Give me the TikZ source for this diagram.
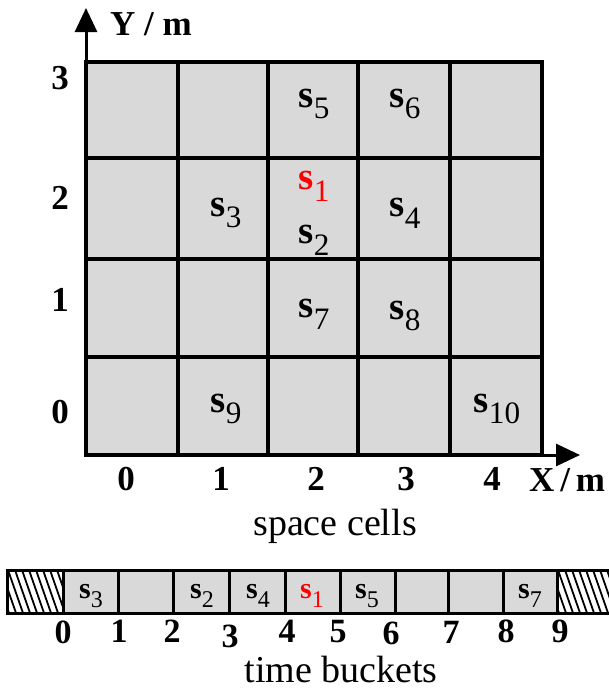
\documentclass[tikz,border=0pt]{standalone}
\usepackage{fontspec}
\setmainfont{Liberation Serif}
\usetikzlibrary{arrows.meta}
\definecolor{cellgray}{RGB}{217,217,217}
\definecolor{sred}{RGB}{255,0,0}
\newcommand{\svar}[1]{{\bfseries s}\raisebox{-0.3em}{\mdseries\scalebox{0.8}{#1}}}
\tikzset{
  cell/.style={fill=cellgray,draw=black,line width=3.6pt},
  bucket/.style={fill=cellgray,draw=black,line width=3pt},
  big/.style={font=\fontsize{35}{38}\selectfont\bfseries,inner sep=0pt},
  lab/.style={font=\fontsize{39}{42}\selectfont,inner sep=0pt},
  blab/.style={font=\fontsize{30}{32}\selectfont,inner sep=0pt},
  tnum/.style={font=\fontsize{34}{36}\selectfont\bfseries,inner sep=0pt},
  captext/.style={font=\fontsize{38}{40}\selectfont,inner sep=0pt},
  axis/.style={line width=3pt,-{Triangle[length=24pt,width=22pt]}}
}
\begin{document}
\begin{tikzpicture}[x=1pt,y=-1pt]
\useasboundingbox (0,0) rectangle (609,689);
% grid cells
\foreach \xa/\xb in {86/178,178/268,268/358,358/450,450/542}{
  \foreach \ya/\yb in {62/158,158/259,259/357,357/455}{
    \draw[cell] (\xa,\ya) rectangle (\xb,\yb);
  }
}
% axes
\coordinate (o) at (86,455);
\coordinate (ytip) at (86,8);
\coordinate (xtip) at (580,455);
\draw[axis] (o) -- (ytip);
\draw[axis] (o) -- (xtip);
\node[big,anchor=west] (ylab) at (110,24) {Y / m};
\node[big,anchor=west] (xlab) at (529,480) {X\,/\,m};
% y numbers
\node[big] (y3) at (60,78) {3};
\node[big] (y2) at (60,198) {2};
\node[big] (y1) at (60,300) {1};
\node[big] (y0) at (60,412) {0};
% x numbers
\node[big] (x0) at (126,479) {0};
\node[big] (x1) at (221,479) {1};
\node[big] (x2) at (316,479) {2};
\node[big] (x3) at (406,479) {3};
\node[big] (x4) at (492,479) {4};
% cell labels
\node[lab] (c5) at (314,104) {\svar{5}};
\node[lab] (c6) at (405,104) {\svar{6}};
\node[lab,text=sred] (c1) at (314,186) {\svar{1}};
\node[lab] (c2) at (314,240) {\svar{2}};
\node[lab] (c3) at (226,213) {\svar{3}};
\node[lab] (c4) at (405,213) {\svar{4}};
\node[lab] (c7) at (314,314) {\svar{7}};
\node[lab] (c8) at (405,316) {\svar{8}};
\node[lab] (c9) at (226,409) {\svar{9}};
\node[lab] (c10) at (497,409) {\svar{10}};
\node[captext] (sc) at (335,526) {space cells};
% time buckets
\begin{scope}
  \clip (7,570) rectangle (63,613);
  \foreach \i in {-20,-13,...,80}{
    \draw[line width=1.8pt] (\i,570) -- (\i+15,613);
  }
\end{scope}
\begin{scope}
  \clip (557,570) rectangle (611,613);
  \foreach \i in {530,537,...,640}{
    \draw[line width=1.8pt] (\i,570) -- (\i+15,613);
  }
\end{scope}
\draw[line width=3pt] (7,570) rectangle (63,613);
\draw[line width=3pt] (557,570) -- (611,570) (557,613) -- (611,613);
\foreach \xa/\xb in {63/118,118/173,173/229,229/285,285/340,340/395,395/448,448/503,503/557}{
  \draw[bucket] (\xa,570) rectangle (\xb,613);
}
\node[blab] (b3) at (91,596) {\svar{3}};
\node[blab] (b2) at (202,596) {\svar{2}};
\node[blab] (b4) at (258,596) {\svar{4}};
\node[blab,text=sred] (b1) at (312,596) {\svar{1}};
\node[blab] (b5) at (367,596) {\svar{5}};
\node[blab] (b7) at (530,596) {\svar{7}};
\node[tnum] (t0) at (63,632) {0};
\node[tnum] (t1) at (119,631) {1};
\node[tnum] (t2) at (172,631) {2};
\node[tnum] (t3) at (230,636) {3};
\node[tnum] (t4) at (287,631) {4};
\node[tnum] (t5) at (338,632) {5};
\node[tnum] (t6) at (391,633) {6};
\node[tnum] (t7) at (451,632) {7};
\node[tnum] (t8) at (506,631) {8};
\node[tnum] (t9) at (560,631) {9};
\node[captext] (tb) at (341,669) {time buckets};
\end{tikzpicture}
\end{document}
